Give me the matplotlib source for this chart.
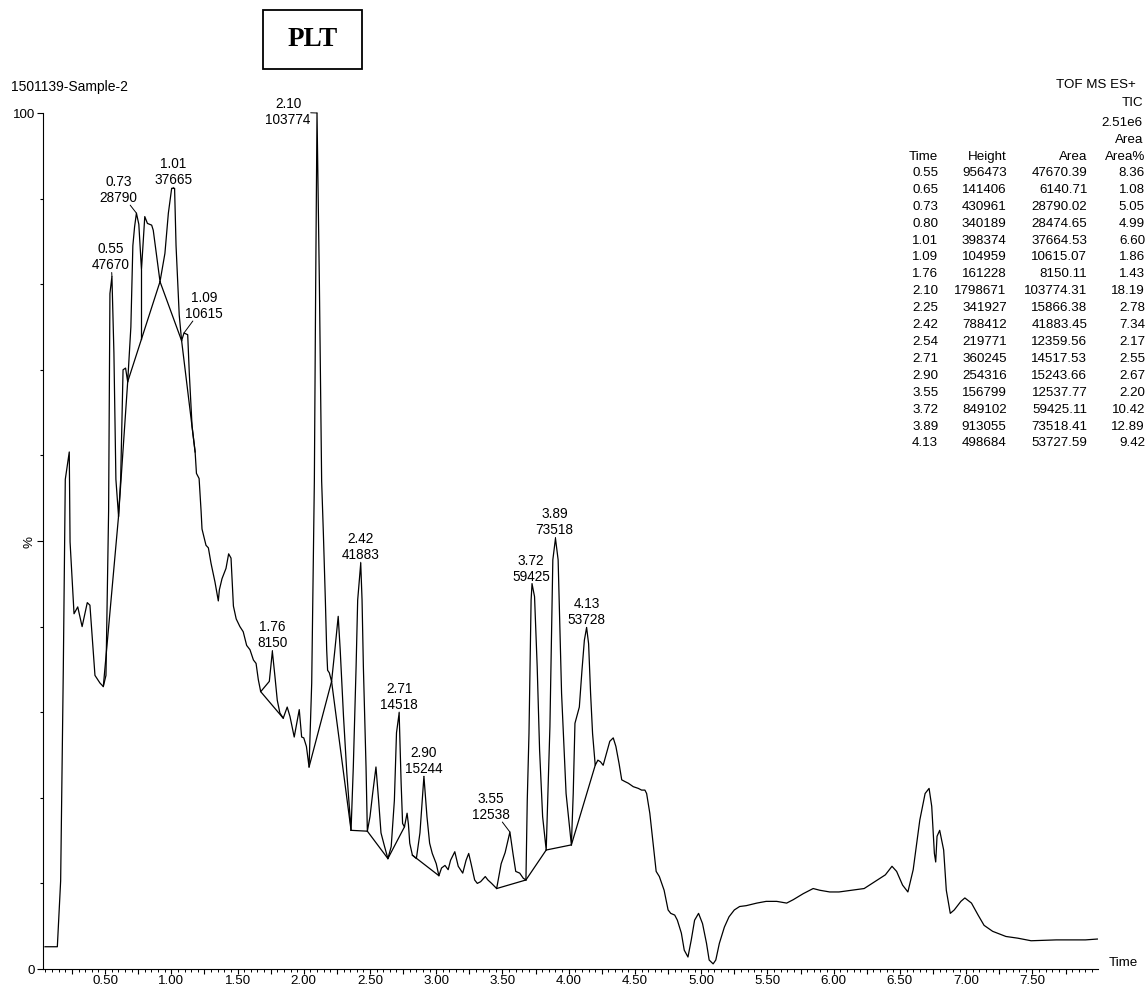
import numpy as np
import matplotlib.pyplot as plt
from matplotlib.patches import Rectangle
from matplotlib.ticker import MultipleLocator, FixedLocator, FuncFormatter

plt.rcParams['font.family'] = ['Liberation Sans', 'DejaVu Sans']

# TIC trace: time (min) and relative intensity (%)
trace_t = [0.047, 0.14, 0.165, 0.185, 0.20, 0.23, 0.236, 0.266, 0.294, 0.327,
           0.366, 0.386, 0.424, 0.462, 0.487, 0.507, 0.527, 0.537, 0.552, 0.567,
           0.582, 0.602, 0.618, 0.636, 0.655, 0.671, 0.695, 0.71, 0.723, 0.737,
           0.755, 0.775, 0.80, 0.82, 0.852, 0.864, 0.915, 0.952, 0.978, 1.003,
           1.025, 1.036, 1.06, 1.078, 1.096, 1.124, 1.136, 1.157, 1.18, 1.19,
           1.21, 1.225, 1.232, 1.262, 1.28, 1.30, 1.33, 1.355, 1.363, 1.383,
           1.413, 1.433, 1.451, 1.469, 1.49, 1.518, 1.543, 1.569, 1.594, 1.62,
           1.64, 1.657, 1.675, 1.707, 1.74, 1.763, 1.783, 1.80, 1.82, 1.845,
           1.875, 1.896, 1.928, 1.966, 1.984, 2.0, 2.02, 2.04, 2.06, 2.08,
           2.09, 2.10, 2.118, 2.135, 2.148, 2.163, 2.173, 2.18, 2.193, 2.21,
           2.235, 2.26, 2.275, 2.30, 2.325, 2.357, 2.374, 2.395, 2.407, 2.43,
           2.44, 2.45, 2.47, 2.48, 2.50, 2.52, 2.545, 2.565, 2.583, 2.61,
           2.635, 2.66, 2.684, 2.70, 2.72, 2.735, 2.746, 2.76, 2.78, 2.79,
           2.80, 2.82, 2.85, 2.877, 2.907, 2.93, 2.95, 2.97, 3.0, 3.02,
           3.04, 3.066, 3.09, 3.108, 3.14, 3.166, 3.2, 3.225, 3.245, 3.263,
           3.29, 3.31, 3.335, 3.37, 3.39, 3.418, 3.456, 3.49, 3.52, 3.556,
           3.58, 3.60, 3.63, 3.657, 3.677, 3.687, 3.70, 3.716, 3.723, 3.742,
           3.762, 3.78, 3.803, 3.83, 3.858, 3.88, 3.90, 3.92, 3.946, 3.98,
           4.02, 4.034, 4.047, 4.064, 4.08, 4.10, 4.118, 4.135, 4.15, 4.165,
           4.18, 4.20, 4.22, 4.24, 4.26, 4.285, 4.31, 4.336, 4.356, 4.38,
           4.40, 4.424, 4.45, 4.487, 4.525, 4.55, 4.575, 4.588, 4.612, 4.637,
           4.66, 4.684, 4.72, 4.75, 4.77, 4.80, 4.82, 4.85, 4.872, 4.90,
           4.925, 4.95, 4.98, 5.01, 5.04, 5.06, 5.09, 5.11, 5.137, 5.175,
           5.21, 5.25, 5.29, 5.34, 5.42, 5.49, 5.57, 5.645, 5.695, 5.77,
           5.845, 5.895, 5.97, 6.04, 6.135, 6.23, 6.33, 6.39, 6.44, 6.475,
           6.52, 6.56, 6.60, 6.65, 6.69, 6.72, 6.74, 6.76, 6.77, 6.78,
           6.80, 6.83, 6.85, 6.88, 6.91, 6.96, 6.99, 7.04, 7.09, 7.135,
           7.20, 7.30, 7.39, 7.49, 7.68, 7.90, 7.99]
trace_y = [2.6, 2.6, 10.3, 35.0, 57.2, 60.4, 49.9, 41.5, 42.3, 40.0,
           42.8, 42.5, 34.3, 33.4, 33.0, 34.3, 53.5, 78.9, 80.9, 72.0,
           57.2, 52.9, 57.2, 70.0, 70.2, 68.6, 75.0, 84.5, 86.7, 88.3,
           87.0, 81.7, 87.9, 87.1, 86.9, 86.3, 80.3, 83.6, 88.3, 91.2,
           91.2, 84.5, 76.4, 73.4, 74.3, 74.1, 69.6, 63.4, 60.4, 57.9,
           57.3, 53.5, 51.4, 49.5, 49.2, 47.4, 45.2, 43.0, 44.3, 45.6,
           46.8, 48.5, 48.0, 42.4, 40.9, 40.0, 39.4, 37.8, 37.3, 36.1,
           35.7, 33.8, 32.4, 33.0, 33.6, 37.1, 34.1, 31.4, 29.9, 29.3,
           30.6, 29.5, 27.1, 30.3, 27.1, 27.0, 26.0, 23.6, 33.4, 57.0,
           80.0, 100.0, 80.0, 57.0, 50.9, 43.1, 37.3, 34.9, 34.6, 33.6,
           37.3, 41.2, 37.3, 29.5, 22.9, 16.2, 23.6, 35.3, 43.1, 47.4,
           43.1, 35.3, 23.6, 16.1, 17.8, 20.5, 23.6, 19.7, 15.9, 14.3,
           12.9, 14.3, 19.7, 27.6, 29.9, 21.7, 17.0, 16.6, 18.2, 16.9,
           14.7, 13.3, 12.9, 15.9, 22.5, 17.8, 14.7, 13.5, 12.3, 10.9,
           11.8, 12.1, 11.6, 12.7, 13.7, 12.0, 11.2, 12.7, 13.5, 12.3,
           10.4, 10.0, 10.2, 10.8, 10.4, 10.0, 9.4, 12.3, 13.6, 16.0,
           13.4, 11.4, 11.2, 10.6, 10.4, 19.7, 27.5, 43.1, 45.0, 43.5,
           35.3, 25.6, 17.8, 13.9, 28.3, 47.8, 50.3, 47.8, 32.2, 20.5,
           14.5, 20.5, 28.7, 29.7, 30.6, 34.9, 38.4, 39.9, 38.0, 32.2,
           27.5, 23.8, 24.4, 24.2, 23.8, 25.2, 26.6, 27.0, 26.0, 24.0,
           22.1, 21.9, 21.7, 21.3, 21.1, 20.9, 20.9, 20.5, 18.2, 14.7,
           11.4, 10.8, 9.2, 6.9, 6.5, 6.3, 5.7, 4.2, 2.2, 1.4,
           3.4, 5.7, 6.5, 5.3, 3.0, 1.05, 0.6, 1.05, 3.0, 4.9,
           6.1, 6.9, 7.3, 7.4, 7.7, 7.9, 7.9, 7.7, 8.1, 8.8,
           9.4, 9.2, 9.0, 9.0, 9.2, 9.4, 10.4, 11.0, 12.0, 11.4,
           9.8, 9.0, 11.6, 17.4, 20.5, 21.1, 19.0, 13.5, 12.5, 15.5,
           16.2, 13.9, 9.2, 6.5, 6.9, 7.9, 8.3, 7.7, 6.3, 5.1,
           4.4, 3.8, 3.6, 3.3, 3.4, 3.4, 3.5]

# integration baselines: start time, start %, end time, end %
baselines = [(0.487, 33.0, 0.602, 52.9), (0.602, 52.9, 0.671, 68.6),
             (0.671, 68.6, 0.915, 80.3), (0.915, 80.3, 1.078, 73.4),
             (1.078, 73.4, 1.18, 60.4), (1.675, 32.4, 1.845, 29.3),
             (2.04, 23.6, 2.21, 33.6), (2.21, 33.6, 2.357, 16.2),
             (2.357, 16.2, 2.48, 16.1), (2.48, 16.1, 2.635, 12.9),
             (2.635, 12.9, 2.76, 16.6), (2.82, 13.3, 3.02, 10.9),
             (3.456, 9.4, 3.677, 10.4), (3.677, 10.4, 3.83, 13.9),
             (3.83, 13.9, 4.02, 14.5), (4.02, 14.5, 4.20, 23.8)]
# perpendicular drop between 0.73 and 0.80
drop_t = [0.775]

# peak table
tbl_time = ['0.55', '0.65', '0.73', '0.80', '1.01', '1.09', '1.76', '2.10', '2.25',
            '2.42', '2.54', '2.71', '2.90', '3.55', '3.72', '3.89', '4.13']
tbl_height = [956473, 141406, 430961, 340189, 398374, 104959, 161228, 1798671, 341927,
              788412, 219771, 360245, 254316, 156799, 849102, 913055, 498684]
tbl_area = [47670.39, 6140.71, 28790.02, 28474.65, 37664.53, 10615.07, 8150.11,
            103774.31, 15866.38, 41883.45, 12359.56, 14517.53, 15243.66, 12537.77,
            59425.11, 73518.41, 53727.59]
tbl_pct = [8.36, 1.08, 5.05, 4.99, 6.60, 1.86, 1.43, 18.19, 2.78, 7.34, 2.17, 2.55,
           2.67, 2.20, 10.42, 12.89, 9.42]

# labelled peaks: table time and apex time on the trace
lab_time = ['0.55', '0.73', '1.01', '1.09', '1.76', '2.10', '2.42', '2.71', '2.90',
            '3.55', '3.72', '3.89', '4.13']
lab_apex = [0.552, 0.737, 1.015, 1.096, 1.763, 2.10, 2.43, 2.72, 2.907,
            3.556, 3.723, 3.90, 4.135]
# label offsets in pixels (dx, dy)
lab_off = [(-1, 7), (-18, 11), (0, 4), (20, 15), (0, 4), (-29, 1), (0, 4), (0, 4),
           (0, 3), (-19, 13), (-1, 3), (-1, 4), (0, 3)]

W, H = 1148, 992
fig = plt.figure(figsize=(W / 100, H / 100), dpi=100)
ax = fig.add_axes([42.5 / W, 1 - 969 / H, (1098 - 42.5) / W, (969 - 113) / H])

ax.plot(trace_t, trace_y, color='black', lw=0.9, clip_on=False)
for t0, y0, t1, y1 in baselines:
    ax.plot([t0, t1], [y0, y1], color='black', lw=0.9)
for t in drop_t:
    top = np.interp(t, trace_t, trace_y)
    bl = [b for b in baselines if b[0] <= t <= b[2]][0]
    base = np.interp(t, [bl[0], bl[2]], [bl[1], bl[3]])
    ax.plot([t, t], [base, top], color='black', lw=0.9)

area_of = dict(zip(tbl_time, tbl_area))
for name, ta, (dx, dy) in zip(lab_time, lab_apex, lab_off):
    ya = np.interp(ta, trace_t, trace_y)
    txt = name + '\n' + str(int(round(area_of[name])))
    ax.annotate(txt, xy=(ta, ya), xytext=(dx, dy), textcoords='offset pixels',
                ha='center', va='center' if name == '2.10' else 'baseline',
                multialignment='center', fontsize=9.8, linespacing=1.2,
                annotation_clip=False,
                bbox=dict(boxstyle='square,pad=0', fc='none', ec='none'),
                arrowprops=dict(arrowstyle='-', lw=0.7, color='black',
                                shrinkA=0, shrinkB=0))

ax.set_xlim(0.028, 7.995)
ax.set_ylim(0, 100)
for s in ['top', 'right']:
    ax.spines[s].set_visible(False)
for s in ['left', 'bottom']:
    ax.spines[s].set_linewidth(0.8)

ax.xaxis.set_major_locator(MultipleLocator(0.25))
ax.xaxis.set_minor_locator(MultipleLocator(0.05))
ax.xaxis.set_major_formatter(FuncFormatter(
    lambda v, p: '%.2f' % v if abs(v / 0.5 - round(v / 0.5)) < 1e-6 else ''))
ax.set_yticks([0, 50, 100], ['0', '%', '100'])
ax.yaxis.set_minor_locator(FixedLocator(np.arange(10, 100, 10)))
ax.get_yticklabels()[1].set_rotation(90)
ax.tick_params(axis='x', which='major', length=3.6, width=0.8, pad=1, labelsize=9.6)
ax.tick_params(axis='x', which='minor', length=1.8, width=0.7)
ax.tick_params(axis='y', which='major', length=4.3, width=0.8, pad=1, labelsize=9.6)
ax.tick_params(axis='y', which='minor', length=2.2, width=0.8)

def px(x, y):
    return x / W, 1 - y / H

fig.text(*px(1109, 963), 'Time', ha='left', va='center', fontsize=9.6)
fig.text(*px(11, 87), '1501139-Sample-2', ha='left', va='center', fontsize=10)

fig.patches.append(Rectangle(px(263, 69), 99 / W, 59 / H, transform=fig.transFigure,
                             fill=False, lw=1.3, ec='black'))
fig.text(*px(312.5, 40), 'PLT', family='Liberation Serif', weight='bold',
         fontsize=19.5, ha='center', va='center')

# peak table at the right
for y, s, xr in [(85, 'TOF MS ES+', 1136), (103, 'TIC', 1143), (123, '2.51e6', 1143),
                 (140, 'Area', 1143)]:
    fig.text(*px(xr, y), s, ha='right', va='center', fontsize=9.6)
cols = [938.3, 1006.7, 1087.3, 1145]
for xr, s in zip(cols, ['Time', 'Height', 'Area', 'Area%']):
    fig.text(*px(xr, 157), s, ha='right', va='center', fontsize=9.6)
for i in range(len(tbl_time)):
    y = 173 + 16.9 * i
    row = [tbl_time[i], str(tbl_height[i]), '%.2f' % tbl_area[i], '%.2f' % tbl_pct[i]]
    for xr, s in zip(cols, row):
        fig.text(*px(xr, y), s, ha='right', va='center', fontsize=9.6)

fig.savefig('out.png', dpi=100)
